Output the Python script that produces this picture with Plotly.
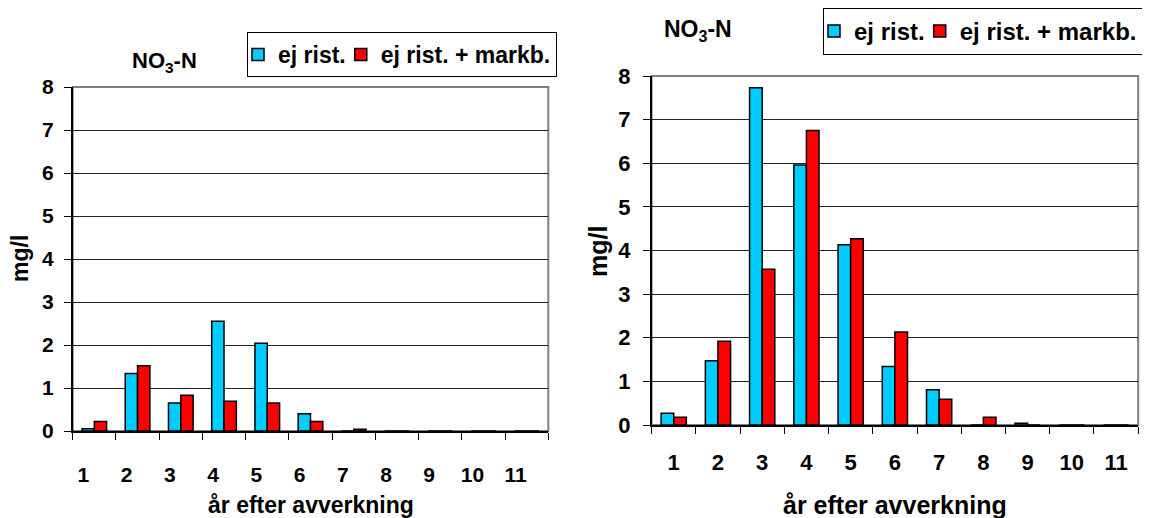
import plotly.graph_objects as go

# data
years = [1, 2, 3, 4, 5, 6, 7, 8, 9, 10, 11]
year_labels = [str(y) for y in years]

left_ej_rist = [0.05, 1.34, 0.65, 2.55, 2.04, 0.40, 0, 0, 0, 0, 0]
left_ej_rist_markb = [0.22, 1.52, 0.83, 0.69, 0.65, 0.22, 0.04, 0, 0, 0, 0]

right_ej_rist = [0.27, 1.47, 7.73, 5.96, 4.13, 1.34, 0.81, 0, 0.04, 0, 0]
right_ej_rist_markb = [0.18, 1.92, 3.57, 6.75, 4.27, 2.13, 0.59, 0.18, 0, 0, 0]

series_names = ["ej rist.", "ej rist. + markb."]
series_colors = ["#00CCFF", "#FF0000"]

FONT = "Liberation Sans, Arial, sans-serif"
W, H = 1150, 518
OFF = 8  # default page margin around the plot div


def txt(size):
    return dict(family=FONT, size=size, color="black", weight="bold")


def px_x(p):
    return (p - OFF) / W


def px_y(p):
    return 1 - (p - OFF) / H


fig = go.Figure()

panels = [
    ("x", "y", "legend", left_ej_rist, left_ej_rist_markb),
    ("x2", "y2", "legend2", right_ej_rist, right_ej_rist_markb),
]
for xa, ya, leg, s1, s2 in panels:
    for name, col, vals in zip(series_names, series_colors, [s1, s2]):
        fig.add_trace(go.Bar(
            x=year_labels, y=vals, name=name, xaxis=xa, yaxis=ya, legend=leg,
            marker=dict(color=col, line=dict(color="black", width=1.5)),
        ))

xcommon = dict(
    type="category", showline=True, linecolor="black", linewidth=1.5,
    ticks="outside", tickson="boundaries", ticklen=7, tickcolor="black",
    showgrid=False, zeroline=False, fixedrange=True,
)
ycommon = dict(
    range=[0, 8], dtick=1, showline=True, linecolor="black", linewidth=1.5,
    ticks="outside", ticklen=7, tickcolor="black",
    showgrid=True, gridcolor="#222222", gridwidth=1, zeroline=False,
    fixedrange=True,
)
legcommon = dict(
    orientation="h", bordercolor="black", borderwidth=1, bgcolor="white",
    xanchor="center", yanchor="top", itemwidth=30,
    traceorder="normal", itemclick=False, indentation=-10,
)

fig.update_layout(
    width=W, height=H,
    margin=dict(l=0, r=0, t=0, b=0, autoexpand=False),
    paper_bgcolor="white", plot_bgcolor="white",
    bargap=0.43, bargroupgap=0, barmode="group",
    xaxis=dict(xcommon, domain=[px_x(72.7), px_x(548.3)], anchor="y",
               tickfont=txt(21), ticklabelstandoff=24, ticklabelshift=-11),
    yaxis=dict(ycommon, domain=[px_y(431), px_y(87)], anchor="x",
               tickfont=txt(21), ticklabelstandoff=6),
    xaxis2=dict(xcommon, domain=[px_x(651.6), px_x(1138.2)], anchor="y2",
                tickfont=txt(22), ticklabelstandoff=17),
    yaxis2=dict(ycommon, domain=[px_y(425), px_y(76)], anchor="x2",
                tickfont=txt(22), ticklabelstandoff=8),
    legend=dict(legcommon, x=px_x(402), y=px_y(32), font=txt(23)),
    legend2=dict(legcommon, x=px_x(983), y=px_y(8), font=txt(24)),
    showlegend=True,
)

# gray plot-area frame (top and right edges)
for xr, yr in [("x domain", "y domain"), ("x2 domain", "y2 domain")]:
    fig.add_shape(type="rect", xref=xr, yref=yr, x0=0, x1=1, y0=0, y1=1,
                  line=dict(color="#808080", width=2), layer="below")

# panel titles and axis titles
texts = [
    ("NO<sub>3</sub>-N", 164, 62, 0, 22),
    ("NO<sub>3</sub>-N", 698, 30, 0, 23),
    ("år efter avverkning", 311, 505, 0, 23),
    ("år efter avverkning", 895, 505, 0, 25),
    ("mg/l", 20, 259, -90, 23),
    ("mg/l", 598, 252, -90, 25),
]
for t, x, y, ang, sz in texts:
    fig.add_annotation(text=t, x=px_x(x), y=px_y(y), xref="paper",
                       yref="paper", showarrow=False, textangle=ang,
                       xanchor="center", yanchor="middle", font=txt(sz))

fig.write_html("out.html")
